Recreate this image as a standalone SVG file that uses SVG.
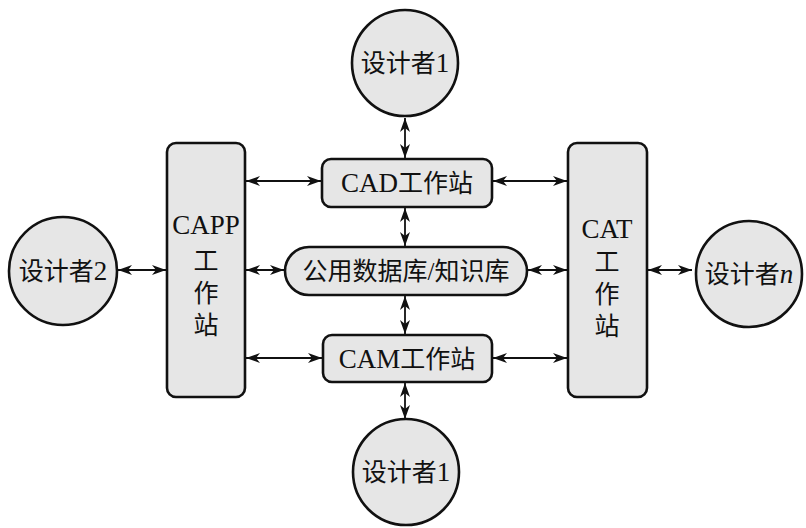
<svg xmlns="http://www.w3.org/2000/svg" width="806" height="528" viewBox="0 0 806 528">
<style>
.n{fill:#e6e6e6;stroke:#111;stroke-width:2.6}
.t{font-family:"Liberation Serif","Noto Sans CJK SC",serif;font-size:25px;fill:#111;text-anchor:middle}
.l{font-size:27px}
.c line{stroke:#111;stroke-width:1.8;marker-start:url(#a);marker-end:url(#a)}
</style>
<defs>
<marker id="a" viewBox="0 0 14 10" refX="14" refY="5" markerWidth="14" markerHeight="10" markerUnits="userSpaceOnUse" orient="auto-start-reverse">
<path d="M0,0 L14,5 L0,10 L4,5 Z" fill="#111"/>
</marker>
</defs>
<rect width="806" height="528" fill="#fff"/>
<g class="c" id="connectors">
<line x1="405" y1="118" x2="405" y2="158"/>
<line x1="405" y1="208" x2="405" y2="246"/>
<line x1="405" y1="296" x2="405" y2="334"/>
<line x1="405" y1="383" x2="405" y2="419"/>
<line x1="246" y1="181" x2="321" y2="181"/>
<line x1="246" y1="270" x2="284" y2="270"/>
<line x1="246" y1="358" x2="322" y2="358"/>
<line x1="493" y1="181" x2="567" y2="181"/>
<line x1="528" y1="270" x2="567" y2="270"/>
<line x1="493" y1="358" x2="567" y2="358"/>
<line x1="118" y1="270" x2="166" y2="270"/>
<line x1="648" y1="270" x2="692" y2="270"/>
</g>
<g id="designer1-top"><circle class="n" cx="405" cy="63" r="53"/><text class="t" x="405" y="72">设计者<tspan class="l">1</tspan></text></g>
<g id="cad"><rect class="n" x="322" y="159" width="170" height="48" rx="9"/><text class="t" x="407" y="192"><tspan class="l">CAD</tspan>工作站</text></g>
<g id="db"><rect class="n" x="285" y="247" width="242" height="48" rx="24"/><text class="t" x="406" y="280">公用数据库/知识库</text></g>
<g id="cam"><rect class="n" x="323" y="335" width="169" height="47" rx="9"/><text class="t" x="407" y="368"><tspan class="l">CAM</tspan>工作站</text></g>
<g id="designer1-bottom"><circle class="n" cx="406" cy="472" r="53"/><text class="t" x="406" y="481">设计者<tspan class="l">1</tspan></text></g>
<g id="capp"><rect class="n" x="167" y="143" width="78" height="254" rx="9"/>
<text class="t l" x="206" y="234">CAPP</text><text class="t" x="206" y="270">工</text><text class="t" x="206" y="302">作</text><text class="t" x="206" y="334">站</text></g>
<g id="cat"><rect class="n" x="568" y="143" width="79" height="254" rx="9"/>
<text class="t l" x="607" y="238">CAT</text><text class="t" x="607" y="271">工</text><text class="t" x="607" y="303">作</text><text class="t" x="607" y="335">站</text></g>
<g id="designer2"><circle class="n" cx="63" cy="271" r="54"/><text class="t" x="63" y="280">设计者<tspan class="l">2</tspan></text></g>
<g id="designern"><circle class="n" cx="749" cy="274" r="53"/><text class="t" x="749" y="283">设计者<tspan class="l" font-style="italic">n</tspan></text></g>
</svg>
